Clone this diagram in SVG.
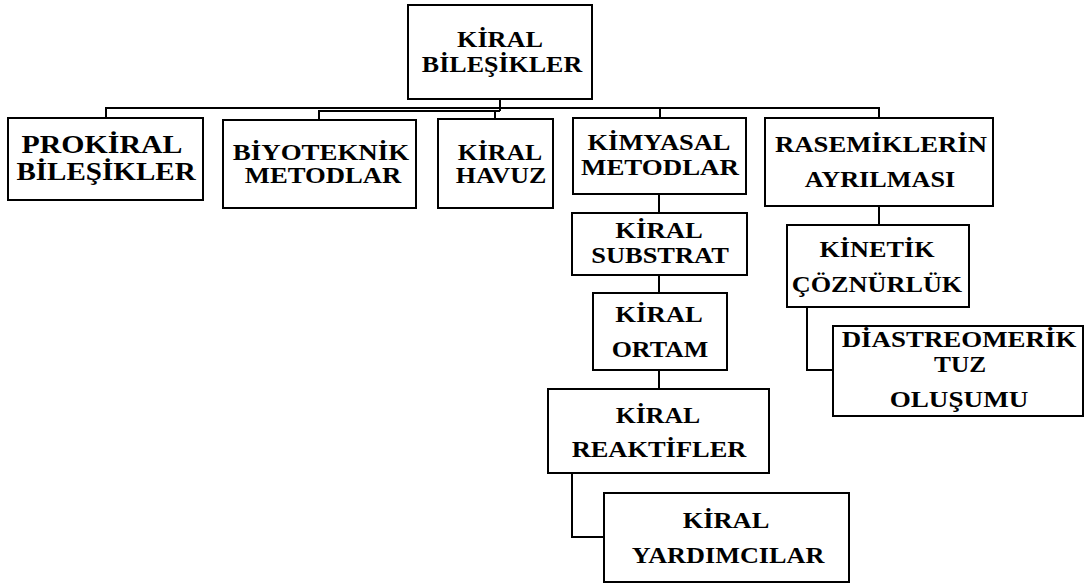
<svg xmlns="http://www.w3.org/2000/svg" width="1086" height="588" viewBox="0 0 1086 588">
<style>
.box{fill:#fff;stroke:#000;stroke-width:2}
.ln{fill:none;stroke:#000;stroke-width:2}
text{font-family:"Liberation Serif","Times New Roman",serif;font-weight:bold;font-size:23px;fill:#000;text-anchor:middle}
.big{font-size:25.5px}
</style>
<rect width="1086" height="588" fill="#fff"/>
<g id="connectors">
<path class="ln" d="M500,99 V111"/>
<path class="ln" d="M106,118 V108 H879 V118"/>
<path class="ln" d="M660,108 V118"/>
<path class="ln" d="M319,120 V111 H500"/>
<path class="ln" d="M495,111 V119"/>
<path class="ln" d="M659,194 V213"/>
<path class="ln" d="M659,275 V293"/>
<path class="ln" d="M659,370 V389"/>
<path class="ln" d="M572,473 V537 H604"/>
<path class="ln" d="M879,206 V225"/>
<path class="ln" d="M807,307 V370 H833"/>
</g>
<g id="kiral-bilesikler">
<rect class="box" x="408" y="5" width="184" height="94"/>
<text transform="translate(500,47) scale(1.14,1)">KİRAL</text>
<text transform="translate(502,72) scale(1.13,1)">BİLEŞİKLER</text>
</g>
<g id="prokiral">
<rect class="box" x="8" y="118" width="195" height="82"/>
<text class="big" transform="translate(102,153) scale(1.17,1)">PROKİRAL</text>
<text class="big" transform="translate(106,180) scale(1.14,1)">BİLEŞİKLER</text>
</g>
<g id="biyoteknik">
<rect class="box" x="223" y="120" width="193" height="88"/>
<text transform="translate(321,160) scale(1.17,1)">BİYOTEKNİK</text>
<text transform="translate(323,183) scale(1.16,1)">METODLAR</text>
</g>
<g id="kiral-havuz">
<rect class="box" x="438" y="119" width="115" height="89"/>
<text transform="translate(500,160) scale(1.12,1)">KİRAL</text>
<text transform="translate(501,183) scale(1.13,1)">HAVUZ</text>
</g>
<g id="kimyasal">
<rect class="box" x="573" y="118" width="173" height="76"/>
<text transform="translate(659,150) scale(1.15,1)">KİMYASAL</text>
<text transform="translate(660,175) scale(1.17,1)">METODLAR</text>
</g>
<g id="rasemik">
<rect class="box" x="765" y="118" width="228" height="88"/>
<text transform="translate(881,152) scale(1.16,1)">RASEMİKLERİN</text>
<text transform="translate(880,187) scale(1.14,1)">AYRILMASI</text>
</g>
<g id="kiral-substrat">
<rect class="box" x="572" y="213" width="175" height="62"/>
<text transform="translate(659,238) scale(1.16,1)">KİRAL</text>
<text transform="translate(660,263) scale(1.15,1)">SUBSTRAT</text>
</g>
<g id="kiral-ortam">
<rect class="box" x="593" y="293" width="134" height="77"/>
<text transform="translate(659,322) scale(1.16,1)">KİRAL</text>
<text transform="translate(660,357) scale(1.13,1)">ORTAM</text>
</g>
<g id="kiral-reaktifler">
<rect class="box" x="548" y="389" width="221" height="84"/>
<text transform="translate(658,423) scale(1.12,1)">KİRAL</text>
<text transform="translate(659,457) scale(1.15,1)">REAKTİFLER</text>
</g>
<g id="kiral-yardimcilar">
<rect class="box" x="604" y="493" width="245" height="89"/>
<text transform="translate(726,528) scale(1.15,1)">KİRAL</text>
<text transform="translate(728,563) scale(1.14,1)">YARDIMCILAR</text>
</g>
<g id="kinetik">
<rect class="box" x="787" y="225" width="182" height="82"/>
<text transform="translate(877,257) scale(1.14,1)">KİNETİK</text>
<text transform="translate(877,292) scale(1.14,1)">ÇÖZNÜRLÜK</text>
</g>
<g id="diastreomerik">
<rect class="box" x="833" y="326" width="250" height="90"/>
<text transform="translate(959,347) scale(1.17,1)">DİASTREOMERİK</text>
<text transform="translate(960,372) scale(1.1,1)">TUZ</text>
<text transform="translate(959,407) scale(1.18,1)">OLUŞUMU</text>
</g>
</svg>
